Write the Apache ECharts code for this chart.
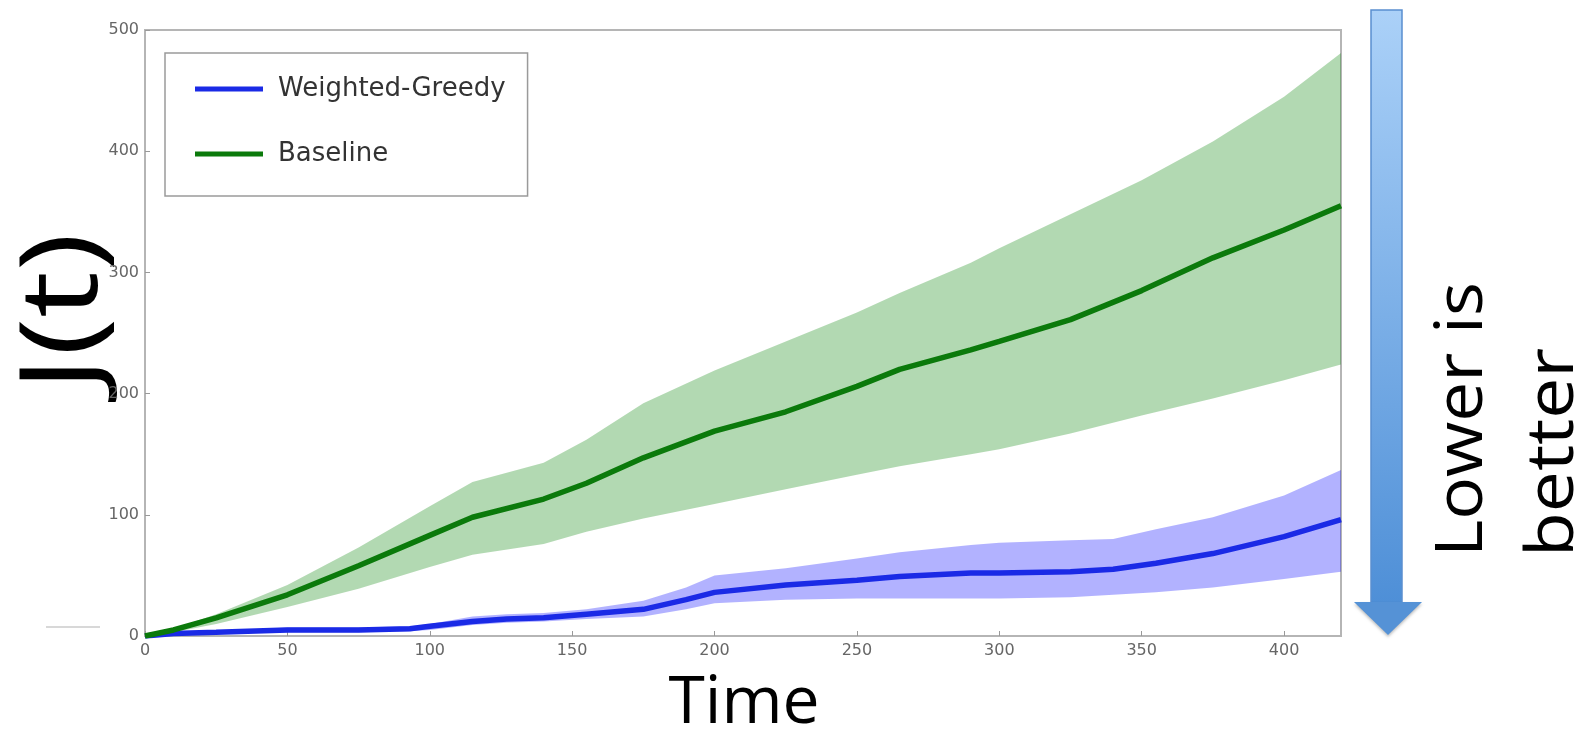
<!DOCTYPE html>
<html>
<head>
<meta charset="utf-8">
<script src="https://cdn.jsdelivr.net/npm/echarts@6/dist/echarts.min.js"></script>
<style>
html,body{margin:0;padding:0;background:#fff;}
#chart{width:1587px;height:731px;}
</style>
</head>
<body>
<div id="chart"></div>
<script>
// ---- data ----
const seriesNames = ['Weighted-Greedy', 'Baseline'];

const baselineTime  = [0,10,25,50,75,100,115,140,155,175,200,225,250,265,290,300,325,350,375,400,420];
const baselineMean  = [0,5,15,34,58,83,98,113,126,147,169,185,206,220,236,243,261,285,312,335,355];
const baselineUpper = [0,6,18,42,73,107,127,143,162,192,219,243,267,283,308,320,348,376,408,445,481];
const baselineLower = [0,3,10,24,39,57,67,76,86,97,109,121,133,140,150,154,167,182,196,211,224];

const greedyTime  = [0,10,25,50,75,93,100,115,127,140,155,175,190,200,225,250,265,290,300,325,340,355,375,400,420];
const greedyMean  = [0,2,3,5,5,6,8,12,14,15,18,22,30,36,42,46,49,52,52,53,55,60,68,82,96];
const greedyUpper = [0,3,4,7,7,8,10,16,18,19,22,29,40,50,56,64,69,75,77,79,80,88,98,116,137];
const greedyLower = [0,1,2,3,3,4,5,9,11,12,14,16,22,27,30,31,31,31,31,32,34,36,40,47,53];

const yTicks = [0,100,200,300,400,500];
const xTicks = [0,50,100,150,200,250,300,350,400];

// ---- helpers ----
const pairs = (xs, ys) => xs.map((x, i) => [x, ys[i]]);
const bandRows = (xs, lo, up) => xs.map((x, i) => [x, lo[i], up[i]]);

function bandSeries(name, xs, lo, up, color) {
  return {
    name: name, type: 'custom', silent: true, z: 1,
    data: bandRows(xs, lo, up),
    encode: { x: 0, y: [1, 2] },
    renderItem: function (params, api) {
      if (params.dataIndex !== 0) return null;
      const pts = [];
      for (let i = 0; i < xs.length; i++) pts.push(api.coord([xs[i], up[i]]));
      for (let i = xs.length - 1; i >= 0; i--) pts.push(api.coord([xs[i], lo[i]]));
      return {
        type: 'polygon',
        shape: { points: pts },
        style: { fill: color, stroke: null }
      };
    }
  };
}

const chart = echarts.init(document.getElementById('chart'));

const option = {
  backgroundColor: '#ffffff',
  animation: false,
  grid: {
    left: 145, right: 246, top: 30, bottom: 95,
    show: true, borderColor: '#b5b5b5', borderWidth: 2, backgroundColor: 'transparent'
  },
  legend: {
    data: seriesNames,
    orient: 'vertical',
    left: 165, top: 53,
    padding: [23, 22, 29, 30],
    itemGap: 39,
    itemWidth: 68, itemHeight: 5,
    icon: 'rect',
    borderColor: '#9a9a9a', borderWidth: 1.5,
    textStyle: { fontSize: 26, fontFamily: 'DejaVu Sans', color: '#333', padding: [0, 0, 0, 10] }
  },
  xAxis: {
    type: 'value', min: 0, max: 420, interval: 50,
    axisLine: { show: false },
    axisTick: { show: true, inside: true, length: 5, lineStyle: { color: '#999' } },
    splitLine: { show: false },
    axisLabel: {
      showMaxLabel: false,
      fontSize: 16, fontFamily: 'DejaVu Sans', color: '#666', margin: 7,
      formatter: v => (xTicks.indexOf(v) >= 0 ? String(v) : '')
    }
  },
  yAxis: {
    type: 'value', min: 0, max: 500, interval: 100,
    axisLine: { show: false },
    axisTick: { show: true, inside: true, length: 5, lineStyle: { color: '#999' } },
    splitLine: { show: false },
    axisLabel: {
      fontSize: 16, fontFamily: 'DejaVu Sans', color: '#666', margin: 6,
      formatter: v => (yTicks.indexOf(v) >= 0 ? String(v) : '')
    }
  },
  series: [
    bandSeries('baselineBand', baselineTime, baselineLower, baselineUpper, 'rgba(0,128,0,0.3)'),
    bandSeries('greedyBand', greedyTime, greedyLower, greedyUpper, 'rgba(0,0,255,0.3)'),
    {
      name: 'Weighted-Greedy', type: 'line', showSymbol: false, symbol: 'none', z: 3,
      itemStyle: { color: '#1a2ae6' },
      lineStyle: { color: '#1a2ae6', width: 5.5 },
      data: pairs(greedyTime, greedyMean)
    },
    {
      name: 'Baseline', type: 'line', showSymbol: false, symbol: 'none', z: 4,
      itemStyle: { color: '#0b7a0b' },
      lineStyle: { color: '#0b7a0b', width: 5.5 },
      data: pairs(baselineTime, baselineMean)
    }
  ],
  graphic: [
    { type: 'text', x: 66, y: 312, rotation: Math.PI / 2, scaleX: 1.21,
      style: { text: 'J(t)', font: '108px "Open Sans"', fill: '#000', align: 'center', verticalAlign: 'middle' } },
    { type: 'text', x: 744, y: 704,
      style: { text: 'Time', font: '66px "Open Sans"', fill: '#000', align: 'center', verticalAlign: 'middle' } },
    { type: 'rect', shape: { x: 1371, y: 10, width: 31, height: 593 },
      style: {
        fill: { type: 'linear', x: 0, y: 0, x2: 0, y2: 1,
          colorStops: [{ offset: 0, color: '#abd1f8' }, { offset: 1, color: '#4e8fd7' }] },
        stroke: '#5a8fd0', lineWidth: 1.5
      } },
    { type: 'polygon', shape: { points: [[1354, 602], [1422, 602], [1388, 635]] },
      style: { fill: '#5592d6', shadowBlur: 3, shadowColor: 'rgba(0,0,0,0.25)', shadowOffsetY: 2 } },
    { type: 'text', x: 1463, y: 557, rotation: Math.PI / 2, scaleX: 1.08,
      style: { text: 'Lower is', font: '66px "Open Sans"', fill: '#000', align: 'left', verticalAlign: 'middle' } },
    { type: 'text', x: 1554, y: 557, rotation: Math.PI / 2, scaleX: 1.11,
      style: { text: 'better', font: '66px "Open Sans"', fill: '#000', align: 'left', verticalAlign: 'middle' } },
    { type: 'line', shape: { x1: 46, y1: 627, x2: 100, y2: 627 },
      style: { stroke: '#d8d8d8', lineWidth: 2 } }
  ]
};

chart.setOption(option);
</script>
</body>
</html>
